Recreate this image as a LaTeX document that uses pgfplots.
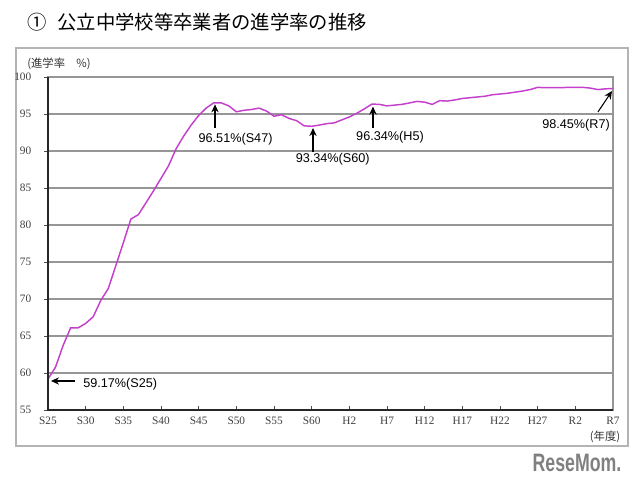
\documentclass[border=0pt]{standalone}
\usepackage{fontspec}
\usepackage{pgfplots}
\pgfplotsset{compat=1.18}
\usetikzlibrary{arrows.meta}
\setmainfont{Liberation Sans}
\newfontfamily\cjk{Noto Sans CJK JP}
\newfontfamily\tickfont{Liberation Serif}
\definecolor{lineM}{RGB}{196,64,204}
\definecolor{gridG}{RGB}{150,150,150}
\definecolor{frameG}{RGB}{180,180,180}

\pgfplotstableread{
year rate
1950 59.17
1951 60.8
1952 63.7
1953 66.1
1954 66.1
1955 66.7
1956 67.6
1957 69.8
1958 71.4
1959 74.5
1960 77.6
1961 80.8
1962 81.4
1963 83.0
1964 84.6
1965 86.3
1966 88.0
1967 90.3
1968 92.0
1969 93.5
1970 94.8
1971 95.8
1972 96.51
1973 96.5
1974 96.1
1975 95.3
1976 95.5
1977 95.6
1978 95.8
1979 95.4
1980 94.7
1981 94.9
1982 94.4
1983 94.1
1984 93.4
1985 93.34
1986 93.5
1987 93.7
1988 93.8
1989 94.2
1990 94.6
1991 95.1
1992 95.7
1993 96.34
1994 96.3
1995 96.1
1996 96.2
1997 96.3
1998 96.5
1999 96.7
2000 96.6
2001 96.3
2002 96.8
2003 96.75
2004 96.9
2005 97.1
2006 97.2
2007 97.3
2008 97.4
2009 97.6
2010 97.7
2011 97.8
2012 97.95
2013 98.1
2014 98.3
2015 98.6
2016 98.55
2017 98.55
2018 98.55
2019 98.6
2020 98.6
2021 98.6
2022 98.5
2023 98.3
2024 98.4
2025 98.45
}\ratedata

\begin{document}
\begin{tikzpicture}
\path (0,0) rectangle (480pt,360.75pt);
\draw[frameG, line width=0.8pt] (12pt,26.25pt) rectangle (471pt,324.75pt);
\node[anchor=west, inner sep=0pt, font=\cjk\fontsize{14.5}{16}\selectfont] at (20.5pt,344.25pt) {①\hspace{0.55em}公立中学校等卒業者の進学率の推移};
\node[inner sep=0pt, font=\cjk\fontsize{8.5}{10}\selectfont, text=black!80] at (44.25pt,312.75pt) {(進学率\hspace{1em}\%)};
\node[inner sep=0pt, font=\cjk\fontsize{8.5}{10}\selectfont, text=black!80] at (453.75pt,33pt) {(年度)};
\node[inner sep=0pt, text=black!50, font=\bfseries\fontsize{14}{16}\selectfont] at (432.75pt,13.5pt) {\scalebox{0.95}[1.35]{ReseMom.}};

\begin{axis}[
  at={(36pt,53.25pt)}, anchor=south west,
  scale only axis, width=423.75pt, height=249.75pt,
  xmin=1950, xmax=2025, ymin=55, ymax=100,
  xtick={1950,1955,...,2025},
  xticklabels={S25,S30,S35,S40,S45,S50,S55,S60,H2,H7,H12,H17,H22,H27,R2,R7},
  ytick={55,60,...,100},
  xtick pos=bottom, ytick pos=left,
  xtick align=inside, ytick align=outside,
  major tick length=3pt,
  tick style={black!70, line width=0.6pt},
  ymajorgrids,
  grid style={gridG, line width=0.8pt},
  axis line style={gridG, line width=0.8pt},
  /pgf/number format/assume math mode=true,
  tick label style={font=\tickfont\fontsize{8.5}{10}\selectfont, text=black!75},
  yticklabel style={xshift=-6pt},
  xticklabel style={yshift=-2pt},
  clip=false,
]
\addplot[lineM, line width=1.1pt, no marks] table[x=year, y=rate] {\ratedata};
\draw[black!85, line width=1.1pt] (rel axis cs:0,1) -- (rel axis cs:0,0) -- (rel axis cs:1,0);

\draw[-{Stealth[length=6pt,width=5.5pt]}, line width=0.8pt] (axis cs:1953.6,58.92) -- (axis cs:1950.4,58.92);
\node[anchor=west, inner sep=0pt, font=\fontsize{9.5}{11}\selectfont] at (axis cs:1954.65,58.47) {59.17\%(S25)};

\draw[-{Stealth[length=6pt,width=5.5pt]}, line width=0.8pt] (axis cs:1972.17,93.1) -- (axis cs:1972.17,96.3);
\node[inner sep=0pt, font=\fontsize{9.5}{11}\selectfont] at (axis cs:1974.9,91.58) {96.51\%(S47)};

\draw[-{Stealth[length=6pt,width=5.5pt]}, line width=0.8pt] (axis cs:1985.18,89.86) -- (axis cs:1985.18,93.1);
\node[inner sep=0pt, font=\fontsize{9.5}{11}\selectfont] at (axis cs:1987.8,88.9) {93.34\%(S60)};

\draw[-{Stealth[length=6pt,width=5.5pt]}, line width=0.8pt] (axis cs:1993.14,93.1) -- (axis cs:1993.14,96.0);
\node[inner sep=0pt, font=\fontsize{9.5}{11}\selectfont] at (axis cs:1995.4,91.9) {96.34\%(H5)};

\draw[-{Stealth[length=6pt,width=5.5pt]}, line width=0.8pt] (axis cs:2023.0,95.27) -- (axis cs:2024.87,98.1);
\node[inner sep=0pt, font=\fontsize{9.5}{11}\selectfont] at (axis cs:2020.1,93.5) {98.45\%(R7)};
\end{axis}
\end{tikzpicture}
\end{document}
